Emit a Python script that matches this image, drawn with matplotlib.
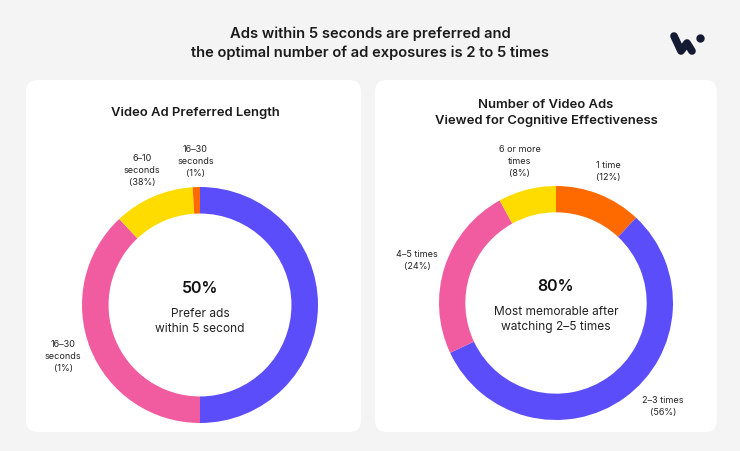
import matplotlib
matplotlib.use("Agg")
import matplotlib.pyplot as plt
import numpy as np
from matplotlib.patches import FancyBboxPatch
from matplotlib.lines import Line2D

plt.rcParams['font.family'] = ['Inter', 'DejaVu Sans']

# ---------------- data ----------------
main_title = "Ads within 5 seconds are preferred and\nthe optimal number of ad exposures is 2 to 5 times"

left_title = "Video Ad Preferred Length"
left_labels = ["", "16–30\nseconds\n(1%)", "6–10\nseconds\n(38%)", "16–30\nseconds\n(1%)"]
left_values = [50, 38, 11, 1]
left_center_big = "50%"
left_center_small = "Prefer ads\nwithin 5 second"

right_title = "Number of Video Ads\nViewed for Cognitive Effectiveness"
right_labels = ["1 time\n(12%)", "2–3 times\n(56%)", "4–5 times\n(24%)", "6 or more\ntimes\n(8%)"]
right_values = [12, 56, 24, 8]
right_center_big = "80%"
right_center_small = "Most memorable after\nwatching 2–5 times"

BLUE = "#5B4EFA"
PINK = "#F05C9F"
YELLOW = "#FFDC00"
ORANGE = "#FF6A00"
left_colors = [BLUE, PINK, YELLOW, ORANGE]
right_colors = [ORANGE, BLUE, PINK, YELLOW]

# label angle tweaks (deg, clockwise) and radial distances
left_label_shift = [0, 1, 0, 0]
left_label_dist = [1.25, 1.24, 1.24, 1.22]
right_label_shift = [0, -10, -1, 0]
right_label_dist = [1.21, 1.27, 1.24, 1.25]

# ---------------- figure ----------------
W, H = 740, 451
fig = plt.figure(figsize=(W / 100, H / 100), dpi=100)
fig.patch.set_facecolor("#F4F4F4")

def px_box(x0, y0, x1, y1):
    return [x0 / W, 1 - y1 / H, (x1 - x0) / W, (y1 - y0) / H]

def add_panel(x0, y0, x1, y1):
    r = 12
    p = FancyBboxPatch((x0 / W, 1 - y1 / H), (x1 - x0) / W, (y1 - y0) / H,
                       boxstyle=f"round,pad=0,rounding_size={r / W}",
                       transform=fig.transFigure, facecolor="white",
                       edgecolor="none", mutation_aspect=W / H, zorder=-5)
    fig.patches.append(p)

add_panel(26, 80, 361, 432)
add_panel(375, 80, 717, 432)

fig.text(370 / W, 1 - 43 / H, main_title, ha="center", va="center",
         fontsize=10.6, fontweight="semibold", color="#1B1B1B", linespacing=1.35)

def donut(cx, cy, R, values, colors, labels, shifts, dists, big, small, title, title_x, title_y):
    ax = fig.add_axes(px_box(cx - R, cy - R, cx + R, cy + R))
    ax.set_zorder(2)
    ax.patch.set_alpha(0)
    wedges, _ = ax.pie(values, colors=colors, startangle=90, counterclock=False,
                       radius=1, wedgeprops=dict(width=0.225, edgecolor="none"))
    ax.set_xlim(-1, 1)
    ax.set_ylim(-1, 1)
    ax.set_aspect("auto")
    ax.axis("off")
    for w, lab, sh, d in zip(wedges, labels, shifts, dists):
        if not lab:
            continue
        mid = np.deg2rad((w.theta1 + w.theta2) / 2 - sh)
        ax.text(d * np.cos(mid), d * np.sin(mid), lab, ha="center", va="center",
                fontsize=6.5, color="#222222", linespacing=1.42, clip_on=False)
    ax.text(0, 0.14, big, ha="center", va="center", fontsize=11.5,
            fontweight="semibold", color="#111111")
    ax.text(0, -0.14, small, ha="center", va="center", fontsize=8.6,
            color="#222222", linespacing=1.4)
    fig.text(title_x / W, 1 - title_y / H, title, ha="center", va="center",
             fontsize=9.4, fontweight="semibold", color="#1B1B1B", linespacing=1.55)
    return ax

donut(200, 305, 118, left_values, left_colors, left_labels, left_label_shift,
      left_label_dist, left_center_big, left_center_small, left_title, 195, 113)
donut(556, 303, 117, right_values, right_colors, right_labels, right_label_shift,
      right_label_dist, right_center_big, right_center_small, right_title, 546, 113)

# logo
def lp(x, y):
    return x / W, 1 - y / H
xs, ys = zip(*[lp(674, 36), lp(681, 51), lp(687, 43), lp(692, 51)])
fig.lines.append(Line2D(xs, ys, transform=fig.transFigure, color="#151A33",
                        linewidth=5.5, solid_capstyle="round", solid_joinstyle="round"))
dx, dy = lp(700, 38)
fig.lines.append(Line2D([dx], [dy], transform=fig.transFigure, marker="o",
                        markersize=5, color="#151A33", linestyle="none"))

fig.savefig("out.png", dpi=100, facecolor=fig.get_facecolor())
